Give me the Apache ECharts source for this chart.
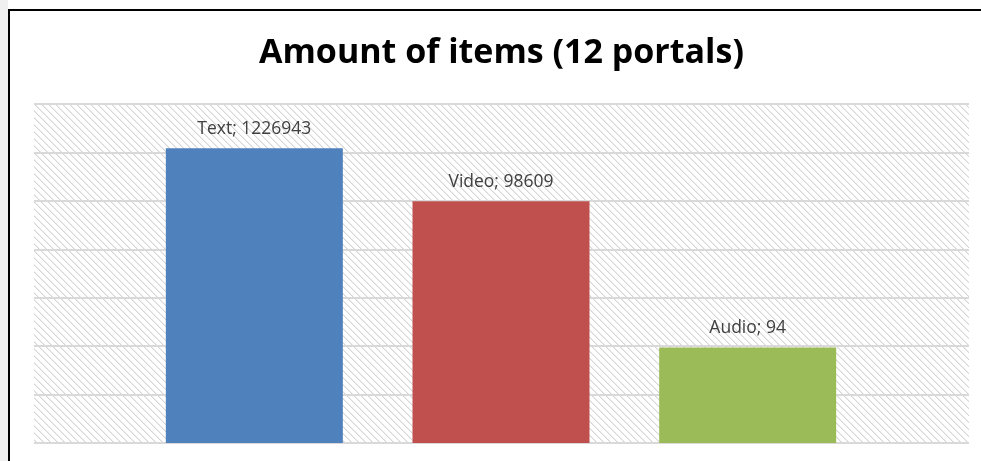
<!DOCTYPE html>
<html>
<head>
<meta charset="utf-8">
<script src="https://cdn.jsdelivr.net/npm/echarts@6/dist/echarts.min.js"></script>
<style>
  html, body { margin: 0; padding: 0; background: #ffffff; }
  #chart { width: 981px; height: 461px; }
</style>
</head>
<body>
<div id="chart"></div>
<script>
// Item counts per content type, collected over 12 portals
const categories = ['Text', 'Video', 'Audio'];
const itemCounts = [1226943, 98609, 94];
const barColors = ['#4f81bd', '#c0504d', '#9bbb59'];
const titleText = 'Amount of items (12 portals)';

// Diagonal hatch used as the plot-area fill
function makeHatch() {
  const size = 7;
  const c = document.createElement('canvas');
  c.width = size; c.height = size;
  const ctx = c.getContext('2d');
  ctx.fillStyle = '#ffffff';
  ctx.fillRect(0, 0, size, size);
  for (let i = 0; i < size; i++) {
    ctx.fillStyle = '#d6d6d6';
    ctx.fillRect(i, i, 1, 1);
    ctx.fillStyle = '#ececec';
    ctx.fillRect((i + 1) % size, i, 1, 1);
  }
  return c;
}

const chart = echarts.init(document.getElementById('chart'), null, { renderer: 'canvas' });

const logAxis = {
  type: 'log',
  logBase: 10,
  min: 1,
  max: 10000000,
  axisLabel: { show: false },
  axisTick: { show: false },
  axisLine: { show: false }
};

chart.setOption({
  animation: false,
  backgroundColor: '#ffffff',
  title: {
    text: titleText,
    left: 254,
    top: 31,
    textStyle: {
      fontFamily: 'Open Sans',
      fontWeight: 'bold',
      fontSize: 34,
      color: '#000000'
    }
  },
  graphic: [
    { type: 'rect', shape: { x: 0, y: 0, width: 8, height: 461 }, style: { fill: '#f0f0f0' }, z: -1 },
    { type: 'line', shape: { x1: 9, y1: 10, x2: 981, y2: 10 }, style: { stroke: '#000000', lineWidth: 2 } },
    { type: 'line', shape: { x1: 9, y1: 9, x2: 9, y2: 461 }, style: { stroke: '#000000', lineWidth: 2 } }
  ],
  grid: [
    {
      left: 34, top: 104, width: 935, height: 339,
      show: true,
      borderWidth: 0,
      backgroundColor: { image: makeHatch(), repeat: 'repeat' }
    },
    { left: 131, top: 104, width: 740, height: 339 }
  ],
  xAxis: [
    { type: 'category', gridIndex: 0, data: categories, show: false },
    {
      type: 'category', gridIndex: 1, data: categories,
      axisLine: { show: false }, axisTick: { show: false }, axisLabel: { show: false }
    }
  ],
  yAxis: [
    Object.assign({ gridIndex: 0, splitLine: { show: true, lineStyle: { color: '#d9d9d9', width: 2 } } }, logAxis),
    Object.assign({ gridIndex: 1, splitLine: { show: false } }, logAxis)
  ],
  series: [
    {
      type: 'bar',
      xAxisIndex: 1,
      yAxisIndex: 1,
      barWidth: 177,
      data: itemCounts.map((v, i) => ({ value: v, itemStyle: { color: barColors[i] } })),
      label: {
        show: true,
        position: 'top',
        distance: 10,
        formatter: p => p.name + '; ' + p.value,
        fontFamily: 'Open Sans',
        fontSize: 17.5,
        color: '#404040'
      }
    }
  ]
});
</script>
</body>
</html>
